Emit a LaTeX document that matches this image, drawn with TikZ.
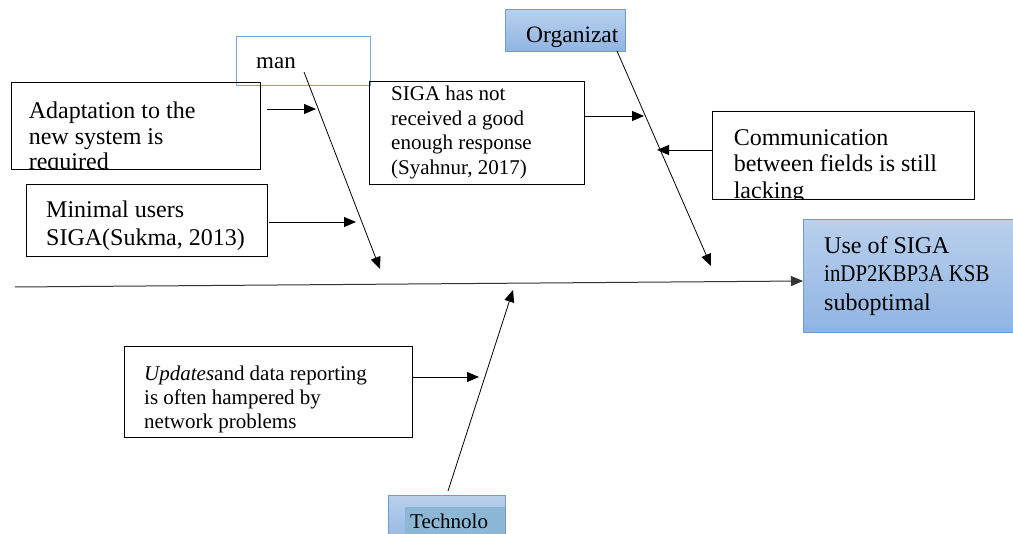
\documentclass[tikz,border=0pt]{standalone}
\usepackage{fontspec}
\setmainfont{Liberation Serif}
\usetikzlibrary{arrows.meta}
\definecolor{headtop}{RGB}{186,208,236}
\definecolor{headbot}{RGB}{143,180,227}
\definecolor{headline}{RGB}{112,156,210}
\definecolor{manline}{RGB}{122,166,220}
\definecolor{techmark}{RGB}{140,184,214}
\tikzset{
  box/.style={draw=black, line width=0.8pt, anchor=north west, inner sep=0pt},
  head/.style={draw=headline, line width=0.8pt, anchor=north west, inner sep=0pt,
    top color=headtop, bottom color=headbot},
  txt/.style={anchor=north west, align=left, inner sep=0pt, minimum width=0pt,
    minimum height=0pt, yshift=-3pt, execute at begin node=\strut},
  small/.style={font=\fontsize{21}{24.5}\selectfont},
  bone/.style={-{Triangle[length=12pt,width=10pt]}, line width=0.8pt},
}
\begin{document}
\begin{tikzpicture}[x=1pt,y=-1pt]%
    \useasboundingbox (0,0) rectangle (1013,534);
    % cause boxes
    \node[box, draw=manline, minimum width=134pt, minimum height=49pt] (man) at (236,36) {};
    \node[txt, font=\fontsize{23}{26}\selectfont] (manT) at (256,47.3) {man};
    \node[box, minimum width=249pt, minimum height=87pt, path picture={
        \node[txt, font=\fontsize{24}{25.5}\selectfont] (adaptT)
          at ([shift={(17,16.15)}]path picture bounding box.north west)
          {Adaptation to the\\new system is\\required};}] (adapt) at (11,82) {};
    \node[box, minimum width=241pt, minimum height=72pt] (minimal) at (26,184) {};
    \node[txt, font=\fontsize{24}{28}\selectfont] (minimalT) at (46,197.4) {Minimal users\\SIGA(Sukma, 2013)};
    \node[box, minimum width=215pt, minimum height=103pt] (siga) at (369,81) {};
    \node[txt, small] (sigaT) at (391,82.85) {SIGA has not\\received a good\\enough response\\(Syahnur, 2017)};
    \node[head, minimum width=120pt, minimum height=42pt] (org) at (505,9) {};
    \node[txt, font=\fontsize{23.5}{26}\selectfont] (orgT) at (526,21) {Organizat};
    \node[box, minimum width=262pt, minimum height=88pt, path picture={
        \node[txt, font=\fontsize{24}{26.5}\selectfont] (commT)
          at ([shift={(21,14.45)}]path picture bounding box.north west)
          {Communication\\between fields is still\\lacking};}] (comm) at (712,111) {};
    \node[head, minimum width=215pt, minimum height=113pt] (use) at (803,219) {};
    \node[txt, font=\fontsize{24}{28.5}\selectfont] (useT) at (824,233.05)
      {Use of SIGA\\\scalebox{0.87}[1]{inDP2KBP3A KSB}\\suboptimal};
    \node[box, minimum width=288pt, minimum height=91pt] (upd) at (124,346) {};
    \node[txt, font=\fontsize{21}{24}\selectfont] (updT) at (144,363.2) {\textit{Updates}and data reporting\\is often hampered by\\network problems};
    \node[head, minimum width=117pt, minimum height=50pt] (tech) at (388,495) {};
    \fill[techmark] (405,507) rectangle (505,540);
    \node[txt, small] (techT) at (410,508) {Technolo};
    % bones and arrows
    \coordinate (tail) at (15,287);
    \coordinate (head) at (803,281);
    \coordinate (manA) at (304,72);     \coordinate (manB) at (380,269);
    \coordinate (orgA) at (617,51);     \coordinate (orgB) at (711,266);
    \coordinate (techA) at (448,491);   \coordinate (techB) at (513,290);
    \coordinate (a1) at (267,109);      \coordinate (a2) at (316,109);
    \coordinate (m1) at (269,222);      \coordinate (m2) at (356,222);
    \coordinate (s1) at (584,116);      \coordinate (s2) at (644,116);
    \coordinate (c1) at (712,150);      \coordinate (c2) at (657,150);
    \coordinate (u1) at (412,377);      \coordinate (u2) at (479,377);
    \draw[bone, line width=1pt, draw=black!80] (tail) -- (head);
    \draw[bone] (manA) -- (manB);
    \draw[bone] (orgA) -- (orgB);
    \draw[bone] (techA) -- (techB);
    \draw[bone] (a1) -- (a2);
    \draw[bone] (m1) -- (m2);
    \draw[bone] (s1) -- (s2);
    \draw[bone] (c1) -- (c2);
    \draw[bone] (u1) -- (u2);
\end{tikzpicture}
\end{document}
